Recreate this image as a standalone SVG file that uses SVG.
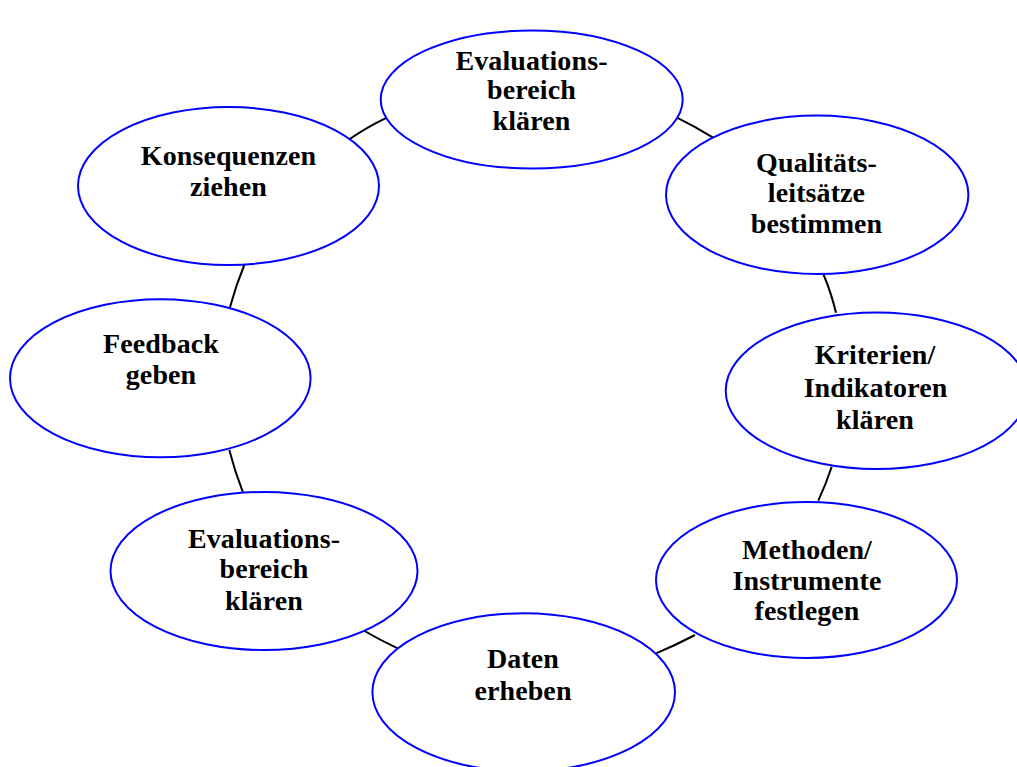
<svg xmlns="http://www.w3.org/2000/svg" width="1017" height="767" viewBox="0 0 1017 767">
<style>
.n{fill:#fff;stroke:#0000ff;stroke-width:2}
.t{font-family:"Liberation Serif","Times New Roman",serif;font-weight:bold;font-size:28px;fill:#000;text-anchor:middle;letter-spacing:0.1px}
.c{fill:none;stroke:#000;stroke-width:2}
</style>
<rect width="1017" height="767" fill="#fff"/>
<g id="connectors">
<path class="c" d="M349.3,139.3 Q367,127 387.3,117.3"/>
<path class="c" d="M675,116.7 Q694,126 712.7,137.3"/>
<path class="c" d="M823.3,274 Q831,292 836,312.7"/>
<path class="c" d="M831.7,466.7 Q826,484 818.3,500.7"/>
<path class="c" d="M695,635 Q676,645 656,653.3"/>
<path class="c" d="M362.7,630 Q380,640 397.7,648.3"/>
<path class="c" d="M244.3,265 Q236,285 230,307.3"/>
<path class="c" d="M229.3,450 Q235,472 243,492.5"/>
</g>
<g id="node1"><ellipse class="n" cx="531.7" cy="99.5" rx="151" ry="69"/>
<text class="t"><tspan x="531.5" y="69.5">Evaluations-</tspan><tspan x="531.5" y="99">bereich</tspan><tspan x="531.5" y="130">klären</tspan></text></g>
<g id="node2"><ellipse class="n" cx="817.2" cy="194.8" rx="151.2" ry="79.2"/>
<text class="t"><tspan x="816.5" y="171.7">Qualitäts-</tspan><tspan x="816.5" y="202">leitsätze</tspan><tspan x="816.5" y="233.3">bestimmen</tspan></text></g>
<g id="node3"><ellipse class="n" cx="876.7" cy="390.7" rx="151" ry="78.3"/>
<text class="t"><tspan x="875" y="364.3">Kriterien/</tspan><tspan x="875.5" y="397">Indikatoren</tspan><tspan x="875" y="429.3">klären</tspan></text></g>
<g id="node4"><ellipse class="n" cx="806.5" cy="580" rx="150.5" ry="78"/>
<text class="t"><tspan x="807" y="558.5">Methoden/</tspan><tspan x="807" y="589.5">Instrumente</tspan><tspan x="807" y="620">festlegen</tspan></text></g>
<g id="node5"><ellipse class="n" cx="523.7" cy="692.3" rx="151.3" ry="79"/>
<text class="t"><tspan x="523" y="668.3">Daten</tspan><tspan x="523" y="700">erheben</tspan></text></g>
<g id="node6"><ellipse class="n" cx="264" cy="571" rx="153.5" ry="79"/>
<text class="t"><tspan x="264" y="547.5">Evaluations-</tspan><tspan x="264" y="578">bereich</tspan><tspan x="264" y="609.5">klären</tspan></text></g>
<g id="node7"><ellipse class="n" cx="160.3" cy="378.3" rx="150.3" ry="79"/>
<text class="t"><tspan x="161" y="353.3">Feedback</tspan><tspan x="161" y="384.3">geben</tspan></text></g>
<g id="node8"><ellipse class="n" cx="228.5" cy="186" rx="150.5" ry="79"/>
<text class="t"><tspan x="228.5" y="164.5">Konsequenzen</tspan><tspan x="228.5" y="195.5">ziehen</tspan></text></g>
</svg>
